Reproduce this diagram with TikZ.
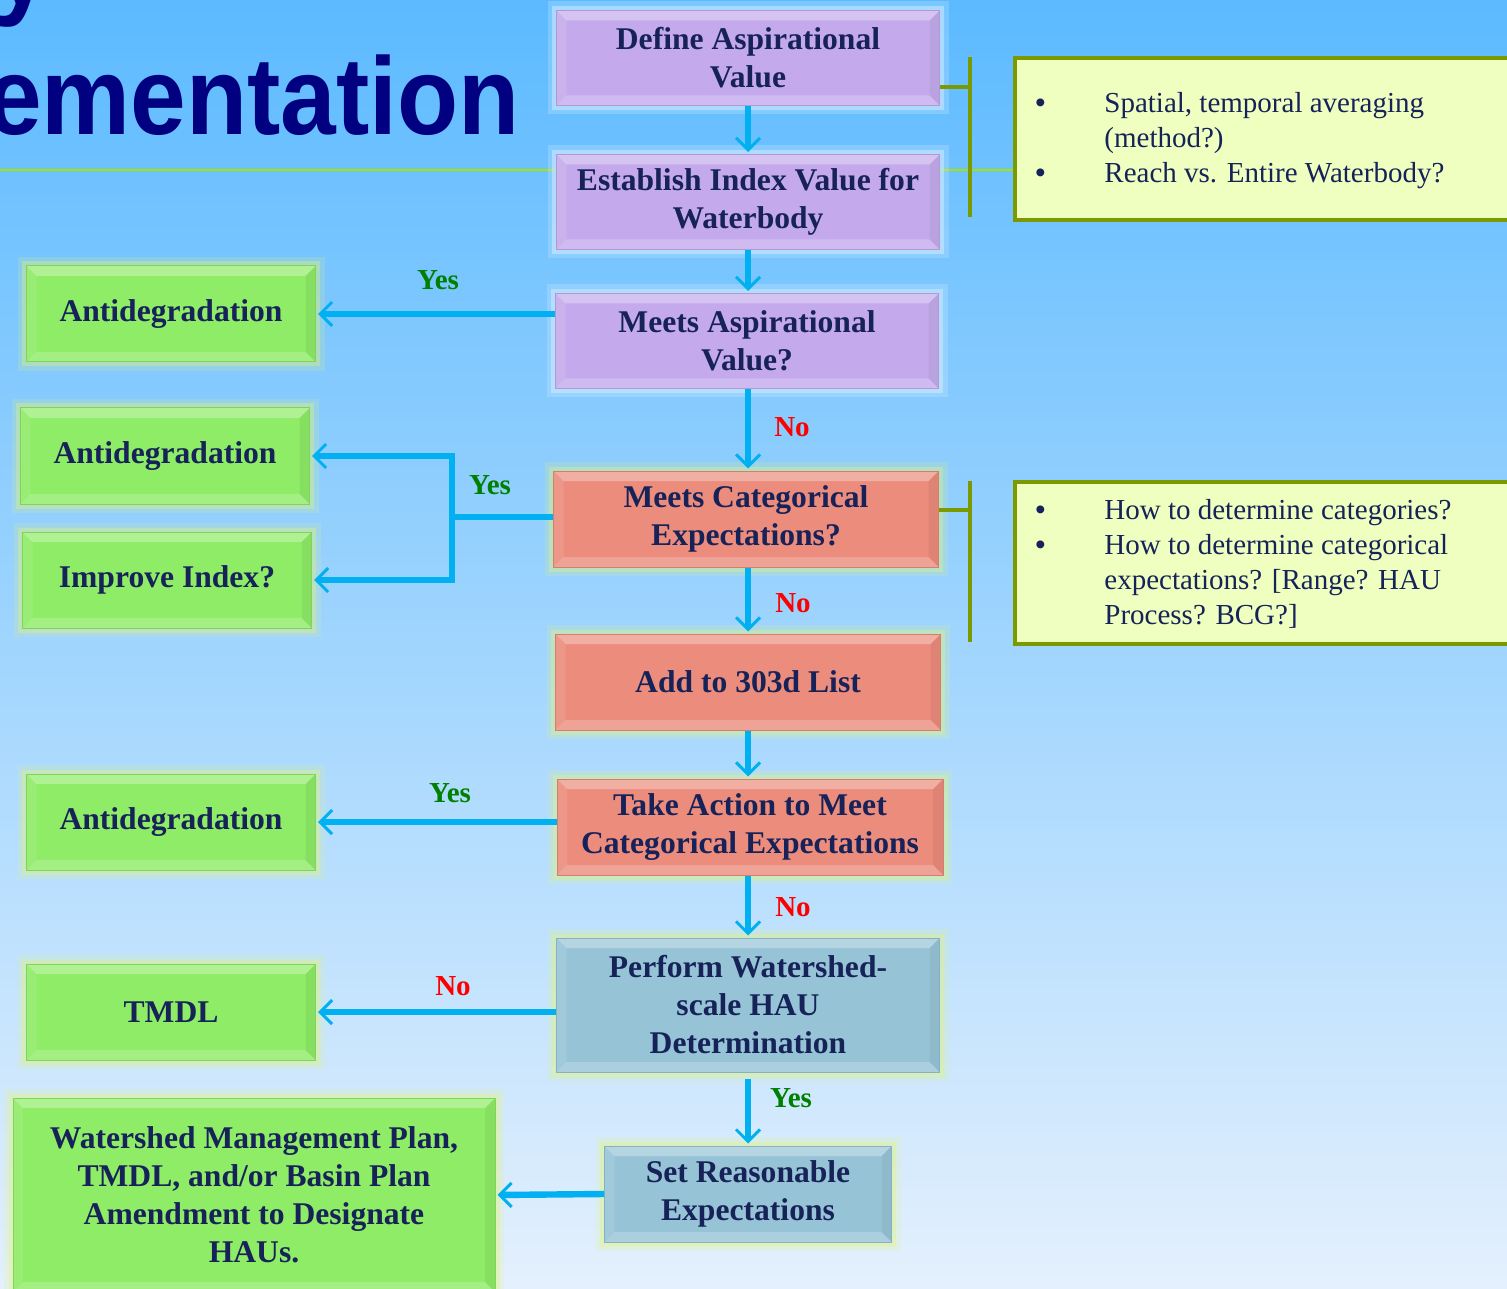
\documentclass[tikz,border=0pt]{standalone}
\usepackage{fontspec}
\setmainfont{Liberation Serif}
\newfontfamily\titlefont{Liberation Sans}
\usetikzlibrary{arrows.meta}

\definecolor{skytop}{RGB}{92,186,255}
\definecolor{skymid}{RGB}{158,208,252}
\definecolor{skybottom}{RGB}{228,240,253}
\definecolor{boxtext}{RGB}{22,34,88}
\definecolor{titleblue}{RGB}{0,0,128}
\definecolor{lavender}{RGB}{196,170,236}
\definecolor{salmon}{RGB}{236,140,124}
\definecolor{steel}{RGB}{150,196,214}
\definecolor{leaf}{RGB}{142,236,102}
\definecolor{notefill}{RGB}{238,255,192}
\definecolor{olive}{RGB}{122,154,0}
\definecolor{lime}{RGB}{168,226,0}
\definecolor{arrowblue}{RGB}{0,176,240}
\definecolor{yesgreen}{RGB}{0,128,0}
\definecolor{nored}{RGB}{255,0,0}
\definecolor{glowyellow}{RGB}{226,246,120}
\definecolor{glowwhite}{RGB}{214,236,255}

\begin{document}
\begin{tikzpicture}%
  [x=0.5pt,y=-0.5pt,
   bevel/.style={path picture={
     \fill[white,opacity=.3] (path picture bounding box.north west) -- (path picture bounding box.north east)
       -- ([shift={(-5pt,-5pt)}]path picture bounding box.north east) -- ([shift={(5pt,-5pt)}]path picture bounding box.north west) -- cycle;
     \fill[white,opacity=.2] (path picture bounding box.south west) -- (path picture bounding box.south east)
       -- ([shift={(-5pt,5pt)}]path picture bounding box.south east) -- ([shift={(5pt,5pt)}]path picture bounding box.south west) -- cycle;
     \fill[black,opacity=.05] (path picture bounding box.north east) -- (path picture bounding box.south east)
       -- ([shift={(-5pt,5pt)}]path picture bounding box.south east) -- ([shift={(-5pt,-5pt)}]path picture bounding box.north east) -- cycle;
     \fill[white,opacity=.1] (path picture bounding box.north west) -- (path picture bounding box.south west)
       -- ([shift={(5pt,5pt)}]path picture bounding box.south west) -- ([shift={(5pt,-5pt)}]path picture bounding box.north west) -- cycle;}}]
  \tikzstyle{box node}=[rectangle,inner sep=0,align=center,text=boxtext,line width=.5pt,bevel,
    font=\bfseries\fontsize{15.8pt}{19pt}\selectfont]
  \tikzstyle{glow node}=[preaction={draw=glowyellow,line width=9pt,opacity=.18},
    preaction={draw=glowyellow,line width=4.5pt,opacity=.35}]
  \tikzstyle{aspire node}=[box node,fill=lavender,draw=lavender!90!black,minimum width=191.5pt,minimum height=47.5pt,
    preaction={draw=glowwhite,line width=9pt,opacity=.25},preaction={draw=glowwhite,line width=4.5pt,opacity=.5}]
  \tikzstyle{category node}=[box node,glow node,fill=salmon,draw=salmon!90!black,minimum width=192.5pt,minimum height=48pt]
  \tikzstyle{hau node}=[box node,glow node,fill=steel,draw=steel!90!black,minimum width=191.5pt,minimum height=67pt]
  \tikzstyle{result node}=[box node,glow node,fill=leaf,draw=leaf!90!black,minimum width=144.5pt,minimum height=48pt]
  \tikzstyle{note node}=[rectangle,anchor=north west,draw=olive,line width=2pt,fill=notefill,
    minimum width=260pt,minimum height=81pt]
  \tikzstyle{note text}=[anchor=west,inner sep=0,text=boxtext,font=\fontsize{14.5pt}{17.5pt}\selectfont]
  \tikzstyle{title text}=[anchor=base west,inner sep=0,text=titleblue,font=\titlefont\bfseries\fontsize{50pt}{50pt}\selectfont]
  \tikzstyle{yes label}=[text=yesgreen,inner sep=0,font=\bfseries\fontsize{14.5pt}{17pt}\selectfont]
  \tikzstyle{no label}=[yes label,text=nored]
  \tikzstyle{flow line}=[draw=arrowblue,line width=3.2pt]
  \tikzstyle{flow arrow}=[flow line,shorten >=1pt,-{Straight Barb[length=6pt,width=12pt,line width=1.5pt]}]
  \tikzstyle{bracket line}=[draw=olive,line width=2pt]
  \newcommand\notedot{\makebox[34.5pt][l]{\titlefont\textbullet}}

  \useasboundingbox (0,0) rectangle (1507,1288);
  \clip (0,0) rectangle (1507,1288);
  \shade[top color=skytop,middle color=skymid,bottom color=skybottom] (0,0) rectangle (1507,1288);

  % title
  \node[title text] (title top) at (-6,5) {\scalebox{1}[1.1]{y}};
  \node[title text] (title) at (-14,135) {\scalebox{1}[1.1]{ementation}};

  % notes
  \node[note node] (note one) at (1013,56) {};
  \node[note text] (note one text) at ([xshift=11pt,yshift=-1pt]note one.west) {%
    \begin{tabular}{@{}l@{}l@{}}
      \notedot & Spatial, temporal averaging\\
       & (method?)\\
      \notedot & Reach vs. Entire Waterbody?
    \end{tabular}};
  \node[note node] (note two) at (1013,480) {};
  \node[note text] (note two text) at ([xshift=11pt,yshift=-1pt]note two.west) {%
    \begin{tabular}{@{}l@{}l@{}}
      \notedot & How to determine categories?\\
      \notedot & How to determine categorical\\
       & expectations? [Range? HAU\\
       & Process? BCG?]
    \end{tabular}};

  \coordinate (rule start) at (0,170);
  \draw[lime,line width=1.2pt] (rule start) -- (note one.west |- rule start);

  % main column
  \node[aspire node] (define) at (748,58) {Define Aspirational\\Value};
  \node[aspire node] (index) at (748,202) {Establish Index Value for\\Waterbody};
  \node[aspire node] (meets aspire) at (747,341) {Meets Aspirational\\Value?};
  \node[category node] (meets cat) at (746,519) {Meets Categorical\\Expectations?};
  \node[category node] (list) at (748,682) {Add to 303d List};
  \node[category node,minimum width=193pt] (action) at (750,827) {Take Action to Meet\\Categorical Expectations};
  \node[hau node] (hau) at (748,1005) {Perform Watershed-\\scale HAU\\Determination};
  \node[hau node,minimum width=143.5pt,minimum height=48pt] (reasonable) at (748,1194) {Set Reasonable\\Expectations};

  % outcomes
  \node[result node] (anti one) at (171,314) {Antidegradation};
  \node[result node] (anti two) at (165,456) {Antidegradation};
  \node[result node] (improve) at (167,580) {Improve Index?};
  \node[result node] (anti three) at (171,822) {Antidegradation};
  \node[result node] (tmdl) at (171,1012) {TMDL};
  \node[result node,minimum width=241pt,minimum height=97pt] (plan) at (254,1195)
    {Watershed Management Plan,\\TMDL, and/or Basin Plan\\Amendment to Designate\\HAUs.};

  % brackets
  \draw[bracket line] (define.east |- 0,87) -- (970,87);
  \draw[bracket line] (970,57) -- (970,217);
  \draw[bracket line] (meets cat.east |- 0,510) -- (970,510);
  \draw[bracket line] (970,481) -- (970,642);

  % connectors
  \draw[flow arrow] (define) -- (index);
  \draw[flow arrow] (index) -- (meets aspire.north -| index);
  \draw[flow arrow] (anti one.east -| meets aspire.west) -- (anti one.east);
  \draw[flow arrow] (meets aspire.south -| define) -- (meets cat.north -| define);
  \coordinate (fork) at (452,517);
  \draw[flow line] (meets cat.west |- fork) -- (fork);
  \draw[flow arrow] (fork) |- (anti two.east);
  \draw[flow arrow] (fork) |- (improve.east);
  \draw[flow arrow] (meets cat.south -| define) -- (list.north);
  \draw[flow arrow] (list.south) -- (list.south |- action.north);
  \draw[flow arrow] (anti three.east -| action.west) -- (anti three.east);
  \draw[flow arrow] (action.south -| define) -- (hau.north);
  \draw[flow arrow] (tmdl.east -| hau.west) -- (tmdl.east);
  \draw[flow arrow] ([yshift=-3pt]hau.south) -- (reasonable.north);
  \draw[flow arrow] (reasonable.west) -- (plan.east);

  % labels
  \node[yes label] (yes one) at (438,280) {Yes};
  \node[no label] (no one) at (792,427) {No};
  \node[yes label] (yes two) at (490,485) {Yes};
  \node[no label] (no two) at (793,603) {No};
  \node[yes label] (yes three) at (450,793) {Yes};
  \node[no label] (no three) at (793,907) {No};
  \node[no label] (no four) at (453,986) {No};
  \node[yes label] (yes four) at (791,1098) {Yes};
\end{tikzpicture}
\end{document}
